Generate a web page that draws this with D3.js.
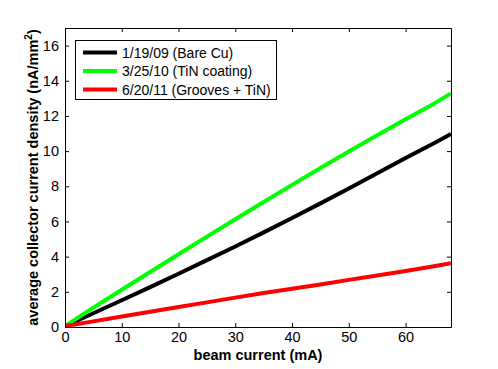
<!DOCTYPE html>
<html>
<head>
<meta charset="utf-8">
<script src="https://cdn.jsdelivr.net/npm/d3@7"></script>
<style>
  body { margin: 0; background: #fff; }
  svg { font-family: "Liberation Sans", Arial, sans-serif; }
</style>
</head>
<body>
<script>
// beam current (mA)
const beamCurrent = [0, 5, 10, 15, 20, 25, 30, 35, 40, 45, 50, 55, 60, 65, 68];
const bareCu  = [0.05, 0.78, 1.52, 2.27, 3.03, 3.8, 4.58, 5.38, 6.2, 7.03, 7.88, 8.74, 9.61, 10.45, 10.97];
const tinCoat = [0.05, 1.1, 2.12, 3.13, 4.14, 5.14, 6.13, 7.11, 8.08, 9.04, 9.98, 10.9, 11.81, 12.7, 13.28];
const grooves = [0.05, 0.32, 0.6, 0.87, 1.14, 1.4, 1.67, 1.93, 2.18, 2.42, 2.68, 2.93, 3.18, 3.45, 3.62];
const seriesNames = ['1/19/09 (Bare Cu)', '3/25/10 (TiN coating)', '6/20/11 (Grooves + TiN)'];
const seriesColors = ['#000000', '#00ff00', '#ff0000'];
const xTicks = [0, 10, 20, 30, 40, 50, 60];
const yTicks = [0, 2, 4, 6, 8, 10, 12, 14, 16];

const W = 498, H = 369;
const m = {top: 28, right: 47, bottom: 42, left: 65};
const fs = 14.5;

const svg = d3.select(document.body).append('svg')
  .attr('width', W).attr('height', H);

const x = d3.scaleLinear().domain([0, 68]).range([m.left, W - m.right]);
const y = d3.scaleLinear().domain([0, 17]).range([H - m.bottom, m.top]);

// data lines
const series = [bareCu, tinCoat, grooves];
const line = d3.line().x((d, i) => x(beamCurrent[i])).y(d => y(d));
svg.append('clipPath').attr('id', 'clip').append('rect')
  .attr('x', m.left).attr('y', m.top)
  .attr('width', W - m.left - m.right).attr('height', H - m.top - m.bottom);
svg.append('g').attr('clip-path', 'url(#clip)')
  .selectAll('path').data(series).enter().append('path')
  .attr('d', line)
  .attr('fill', 'none')
  .attr('stroke', (d, i) => seriesColors[i])
  .attr('stroke-width', 4)
  .attr('stroke-linejoin', 'round');

// axes (ticks pointing inward, box on all sides)
const tick = 4;
const axB = svg.append('g').attr('transform', `translate(0,${H - m.bottom})`)
  .call(d3.axisBottom(x).tickValues(xTicks).tickSizeInner(-tick).tickSizeOuter(0).tickPadding(5));
const axT = svg.append('g').attr('transform', `translate(0,${m.top})`)
  .call(d3.axisTop(x).tickValues(xTicks).tickSizeInner(-tick).tickSizeOuter(0).tickFormat(''));
const axL = svg.append('g').attr('transform', `translate(${m.left},0)`)
  .call(d3.axisLeft(y).tickValues(yTicks).tickSizeInner(-tick).tickSizeOuter(0).tickPadding(6));
const axR = svg.append('g').attr('transform', `translate(${W - m.right},0)`)
  .call(d3.axisRight(y).tickValues(yTicks).tickSizeInner(-tick).tickSizeOuter(0).tickFormat(''));

[axB, axT, axL, axR].forEach(a => {
  a.select('.domain').attr('stroke', '#000').attr('stroke-width', 1);
  a.selectAll('.tick line').attr('stroke', '#000');
  a.selectAll('text').attr('font-size', fs).attr('fill', '#000')
    .attr('font-family', '"Liberation Sans", Arial, sans-serif');
});

// axis labels
svg.append('text')
  .attr('x', (m.left + W - m.right) / 2).attr('y', 360)
  .attr('text-anchor', 'middle').attr('font-weight', 'bold').attr('font-size', fs)
  .text('beam current (mA)');

const yl = svg.append('text')
  .attr('transform', `translate(38,${(m.top + H - m.bottom) / 2}) rotate(-90)`)
  .attr('text-anchor', 'middle').attr('font-weight', 'bold').attr('font-size', fs);
yl.append('tspan').text('average collector current density (nA/mm');
yl.append('tspan').attr('dy', -6).attr('font-size', 10).text('2');
yl.append('tspan').attr('dy', 6).text(')');

// legend
const lg = svg.append('g');
lg.append('rect')
  .attr('x', 75.5).attr('y', 40.5).attr('width', 201).attr('height', 59)
  .attr('fill', '#fff').attr('stroke', '#000');
seriesNames.forEach((name, i) => {
  const ly = 52.5 + i * 18.5;
  lg.append('line')
    .attr('x1', 83).attr('x2', 117).attr('y1', ly).attr('y2', ly)
    .attr('stroke', seriesColors[i]).attr('stroke-width', 4);
  lg.append('text')
    .attr('x', 122).attr('y', ly + 5).attr('font-size', 14)
    .text(name);
});
</script>
</body>
</html>
